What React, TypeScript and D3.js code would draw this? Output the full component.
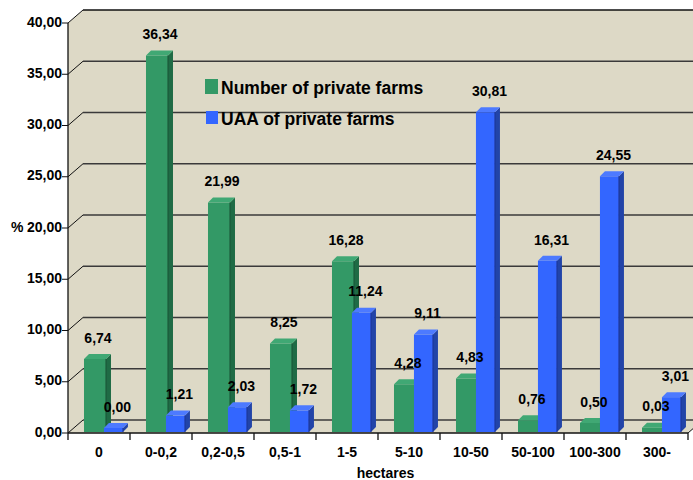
import React from "react";
import * as d3 from "d3";

const categories = ["0", "0-0,2", "0,2-0,5", "0,5-1", "1-5", "5-10", "10-50", "50-100", "100-300", "300-"];
const numberOfFarms = [6.74, 36.34, 21.99, 8.25, 16.28, 4.28, 4.83, 0.76, 0.5, 0.03];
const uaaOfFarms = [0.0, 1.21, 2.03, 1.72, 11.24, 9.11, 30.81, 16.31, 24.55, 3.01];
const yTicks = [0, 5, 10, 15, 20, 25, 30, 35, 40];
const seriesNames = ["Number of private farms", "UAA of private farms"];

const W = 693;
const H = 480;
const left = 68;
const right = 688;
const bottom = 433;
const top = 23;
const DX = 15;
const DY = -13;
const BX = 5;
const BY = -5;

const fmt = (v: number) => v.toFixed(2).replace(".", ",");
const FONT = "'Liberation Sans', Arial, sans-serif";

const WALL = "#DDD9C6";
const colors = [
  { front: "#339966", side: "#1F6B45", top: "#40A874", edge: "#1A5236" },
  { front: "#3366FF", side: "#2244A8", top: "#4D7AFF", edge: "#1A3399" },
];

export default function App() {
  const y = d3.scaleLinear().domain([0, 40]).range([bottom, top]);
  const x = d3.scaleBand<string>().domain(categories).range([left, right]).paddingInner(0).paddingOuter(0);
  const bw = x.bandwidth();

  const geom = (cat: string, v: number, s: number) => {
    const off = s === 0 ? bw * 0.258 : bw * 0.58;
    const w = s === 0 ? 22 : 19;
    const x0 = (x(cat) as number) + off;
    const x1 = x0 + w;
    const yb = y(0) - 1;
    const yt = y(v) - 5;
    return { x0, x1, yb, yt };
  };

  const bar = (cat: string, v: number, s: number, key: string) => {
    const c = colors[s];
    const { x0, x1, yb, yt } = geom(cat, v, s);
    const front = `M${x0},${yb}L${x1},${yb}L${x1},${yt}L${x0},${yt}Z`;
    const side = `M${x1},${yb}L${x1 + BX},${yb + BY}L${x1 + BX},${yt + BY}L${x1},${yt}Z`;
    const topF = `M${x0},${yt}L${x1},${yt}L${x1 + BX},${yt + BY}L${x0 + BX},${yt + BY}Z`;
    return (
      <g key={key}>
        <path d={front} fill={c.front} />
        <path d={side} fill={c.side} />
        <path d={topF} fill={c.top} />
        <line x1={x1} x2={x1} y1={yb} y2={yt} stroke={c.edge} strokeWidth={1} />
      </g>
    );
  };

  const label = (cat: string, v: number, s: number, key: string) => {
    const { x0, x1, yt } = geom(cat, v, s);
    const lx = (x0 + x1) / 2 + (s === 0 ? 3 : 4);
    return (
      <text
        key={key}
        x={lx}
        y={yt - 20}
        textAnchor="middle"
        dominantBaseline="middle"
        fontFamily={FONT}
        fontWeight="bold"
        fontSize={14}
        fill="#000"
      >
        {fmt(v)}
      </text>
    );
  };

  const backRight = W + 20;

  return (
    <svg width={W} height={H} style={{ position: "absolute", left: 0, top: 0, background: "#fff" }}>
      <path
        d={`M${left},${bottom}L${left},${top}L${left + DX},${top + DY}L${backRight},${top + DY}L${backRight},${bottom + DY}L${right + DX},${bottom + DY}L${right},${bottom}Z`}
        fill={WALL}
      />
      {yTicks.map((t) => (
        <g key={t}>
          {t > 0 && t < 40 && (
            <line x1={left + DX} x2={backRight} y1={y(t) + DY} y2={y(t) + DY} stroke="#3a3a3a" strokeWidth={1.3} />
          )}
          <line x1={left} x2={left + DX} y1={y(t)} y2={y(t) + DY} stroke="#111" strokeWidth={1} />
          <line x1={left - 6} x2={left} y1={y(t)} y2={y(t)} stroke="#111" strokeWidth={1} />
          <text
            x={62}
            y={y(t)}
            textAnchor="end"
            dominantBaseline="middle"
            fontFamily={FONT}
            fontWeight="bold"
            fontSize={14}
            fill="#000"
          >
            {fmt(t)}
          </text>
        </g>
      ))}
      <line x1={left + DX} x2={backRight} y1={y(40) + DY} y2={y(40) + DY} stroke="#111" strokeWidth={1.5} />
      <line x1={left + DX} x2={backRight} y1={y(0) + DY} y2={y(0) + DY} stroke="#3a3a3a" strokeWidth={1.3} />
      <text x={11} y={y(20)} dominantBaseline="middle" fontFamily={FONT} fontWeight="bold" fontSize={14} fill="#000">
        %
      </text>
      <line x1={left} x2={left} y1={top} y2={bottom + 7} stroke="#111" strokeWidth={1.3} />
      <line x1={left} x2={right} y1={bottom} y2={bottom} stroke="#111" strokeWidth={1.3} />
      <line x1={right} x2={right + DX} y1={bottom} y2={bottom + DY} stroke="#111" strokeWidth={1} />
      {categories.map((c, i) => (
        <line
          key={"t" + i}
          x1={(x(c) as number) + bw}
          x2={(x(c) as number) + bw}
          y1={bottom}
          y2={bottom + 7}
          stroke="#111"
          strokeWidth={1.3}
        />
      ))}
      {categories.map((c, i) => (
        <g key={c}>
          {bar(c, numberOfFarms[i], 0, c + "g")}
          {bar(c, uaaOfFarms[i], 1, c + "b")}
        </g>
      ))}
      {categories.map((c, i) => (
        <g key={"lab" + c}>
          {label(c, numberOfFarms[i], 0, c + "gl")}
          {label(c, uaaOfFarms[i], 1, c + "bl")}
        </g>
      ))}
      {categories.map((c) => (
        <text
          key={"l" + c}
          x={(x(c) as number) + bw / 2}
          y={457}
          textAnchor="middle"
          fontFamily={FONT}
          fontWeight="bold"
          fontSize={14}
          fill="#000"
        >
          {c}
        </text>
      ))}
      <text x={(left + right + DX) / 2} y={478} textAnchor="middle" fontFamily={FONT} fontWeight="bold" fontSize={14} fill="#000">
        hectares
      </text>
      <rect x={205} y={79} width={13} height={15} fill={colors[0].front} />
      <text x={221} y={94} fontFamily={FONT} fontWeight="bold" fontSize={17.5} fill="#000">
        {seriesNames[0]}
      </text>
      <rect x={206} y={111} width={12} height={13} fill={colors[1].front} />
      <text x={221} y={125} fontFamily={FONT} fontWeight="bold" fontSize={17.5} fill="#000">
        {seriesNames[1]}
      </text>
    </svg>
  );
}
